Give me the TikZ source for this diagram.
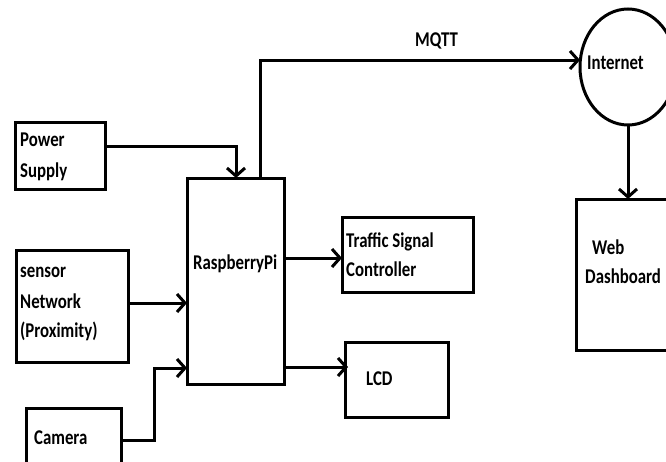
\documentclass[tikz,border=0pt]{standalone}
\usepackage{fontspec}
\setmainfont{Carlito}
\usetikzlibrary{arrows.meta,shapes.geometric}
\newcommand\stxt[1]{\scalebox{1}[1.25]{#1}}
\begin{document}
\begin{tikzpicture}[x=1pt,y=-1pt,
  box/.style={draw,line width=3pt,outer sep=0pt,inner sep=0pt},
  arr/.style={line width=3pt,-{Straight Barb[length=8pt,width=18pt]}},
  lbl/.style={anchor=base west,inner sep=0pt,font=\fontsize{16.8}{20}\selectfont\bfseries}]
\useasboundingbox (0,0) rectangle (666,461);
\clip (0,0) rectangle (666,461);
% boxes
\node[box,minimum width=90pt,minimum height=67pt] (power) at (60,155.5) {};
\node[box,minimum width=97pt,minimum height=206pt] (pi) at (235.5,281) {};
\node[box,minimum width=112pt,minimum height=112pt] (sensor) at (72,306) {};
\node[box,minimum width=95pt,minimum height=67pt] (cam) at (73.5,441.5) {};
\node[box,minimum width=131pt,minimum height=75pt] (traffic) at (407.5,254.5) {};
\node[box,minimum width=103pt,minimum height=75pt] (lcd) at (396.5,379.5) {};
\node[box,minimum width=114pt,minimum height=151pt] (web) at (633,274.5) {};
\node[box,ellipse,minimum width=96pt,minimum height=116pt] (inet) at (628,67) {};
% texts
\node[lbl] (tpower) at (20,146) {\stxt{Power}};
\node[lbl] (tsupply) at (20,177) {\stxt{Supply}};
\node[lbl] (tsensor) at (20,277) {\stxt{sensor}};
\node[lbl] (tnetwork) at (20,308) {\stxt{Network}};
\node[lbl] (tprox) at (20,337) {\stxt{(Proximity)}};
\node[lbl] (tcam) at (34,444) {\stxt{Camera}};
\node[lbl] (tpi) at (193,269.5) {\stxt{RaspberryPi}};
\node[lbl] (ttraffic) at (346,247) {\stxt{Traffic Signal}};
\node[lbl] (tctrl) at (346,276) {\stxt{Controller}};
\node[lbl] (tlcd) at (366,385) {\stxt{LCD}};
\node[lbl] (tmqtt) at (415,46) {\stxt{MQTT}};
\node[lbl] (tinet) at (587,69) {\stxt{Internet}};
\node[lbl] (tweb) at (592,254) {\stxt{Web}};
\node[lbl] (tdash) at (585,283) {\stxt{Dashboard}};
% connectors
\coordinate (cb) at (154,440);
\draw[arr] (power.east |- 0,146) -| (pi.north -| 236,0);
\draw[arr] (sensor.east |- 0,303) -- (pi.west |- 0,303);
\draw[arr] (cam.east |- cb) -- (cb) |- (pi.west |- 0,368);
\draw[arr] (pi.east |- 0,258) -- (traffic.west |- 0,258);
\draw[arr] (pi.east |- 0,367) -- ([xshift=3pt]lcd.west |- 0,367);
\draw[arr] (pi.north -| 260,0) |- (inet.west |- 0,60);
\draw[arr] (inet.south) -- (web.north -| inet.south);
\end{tikzpicture}
\end{document}
